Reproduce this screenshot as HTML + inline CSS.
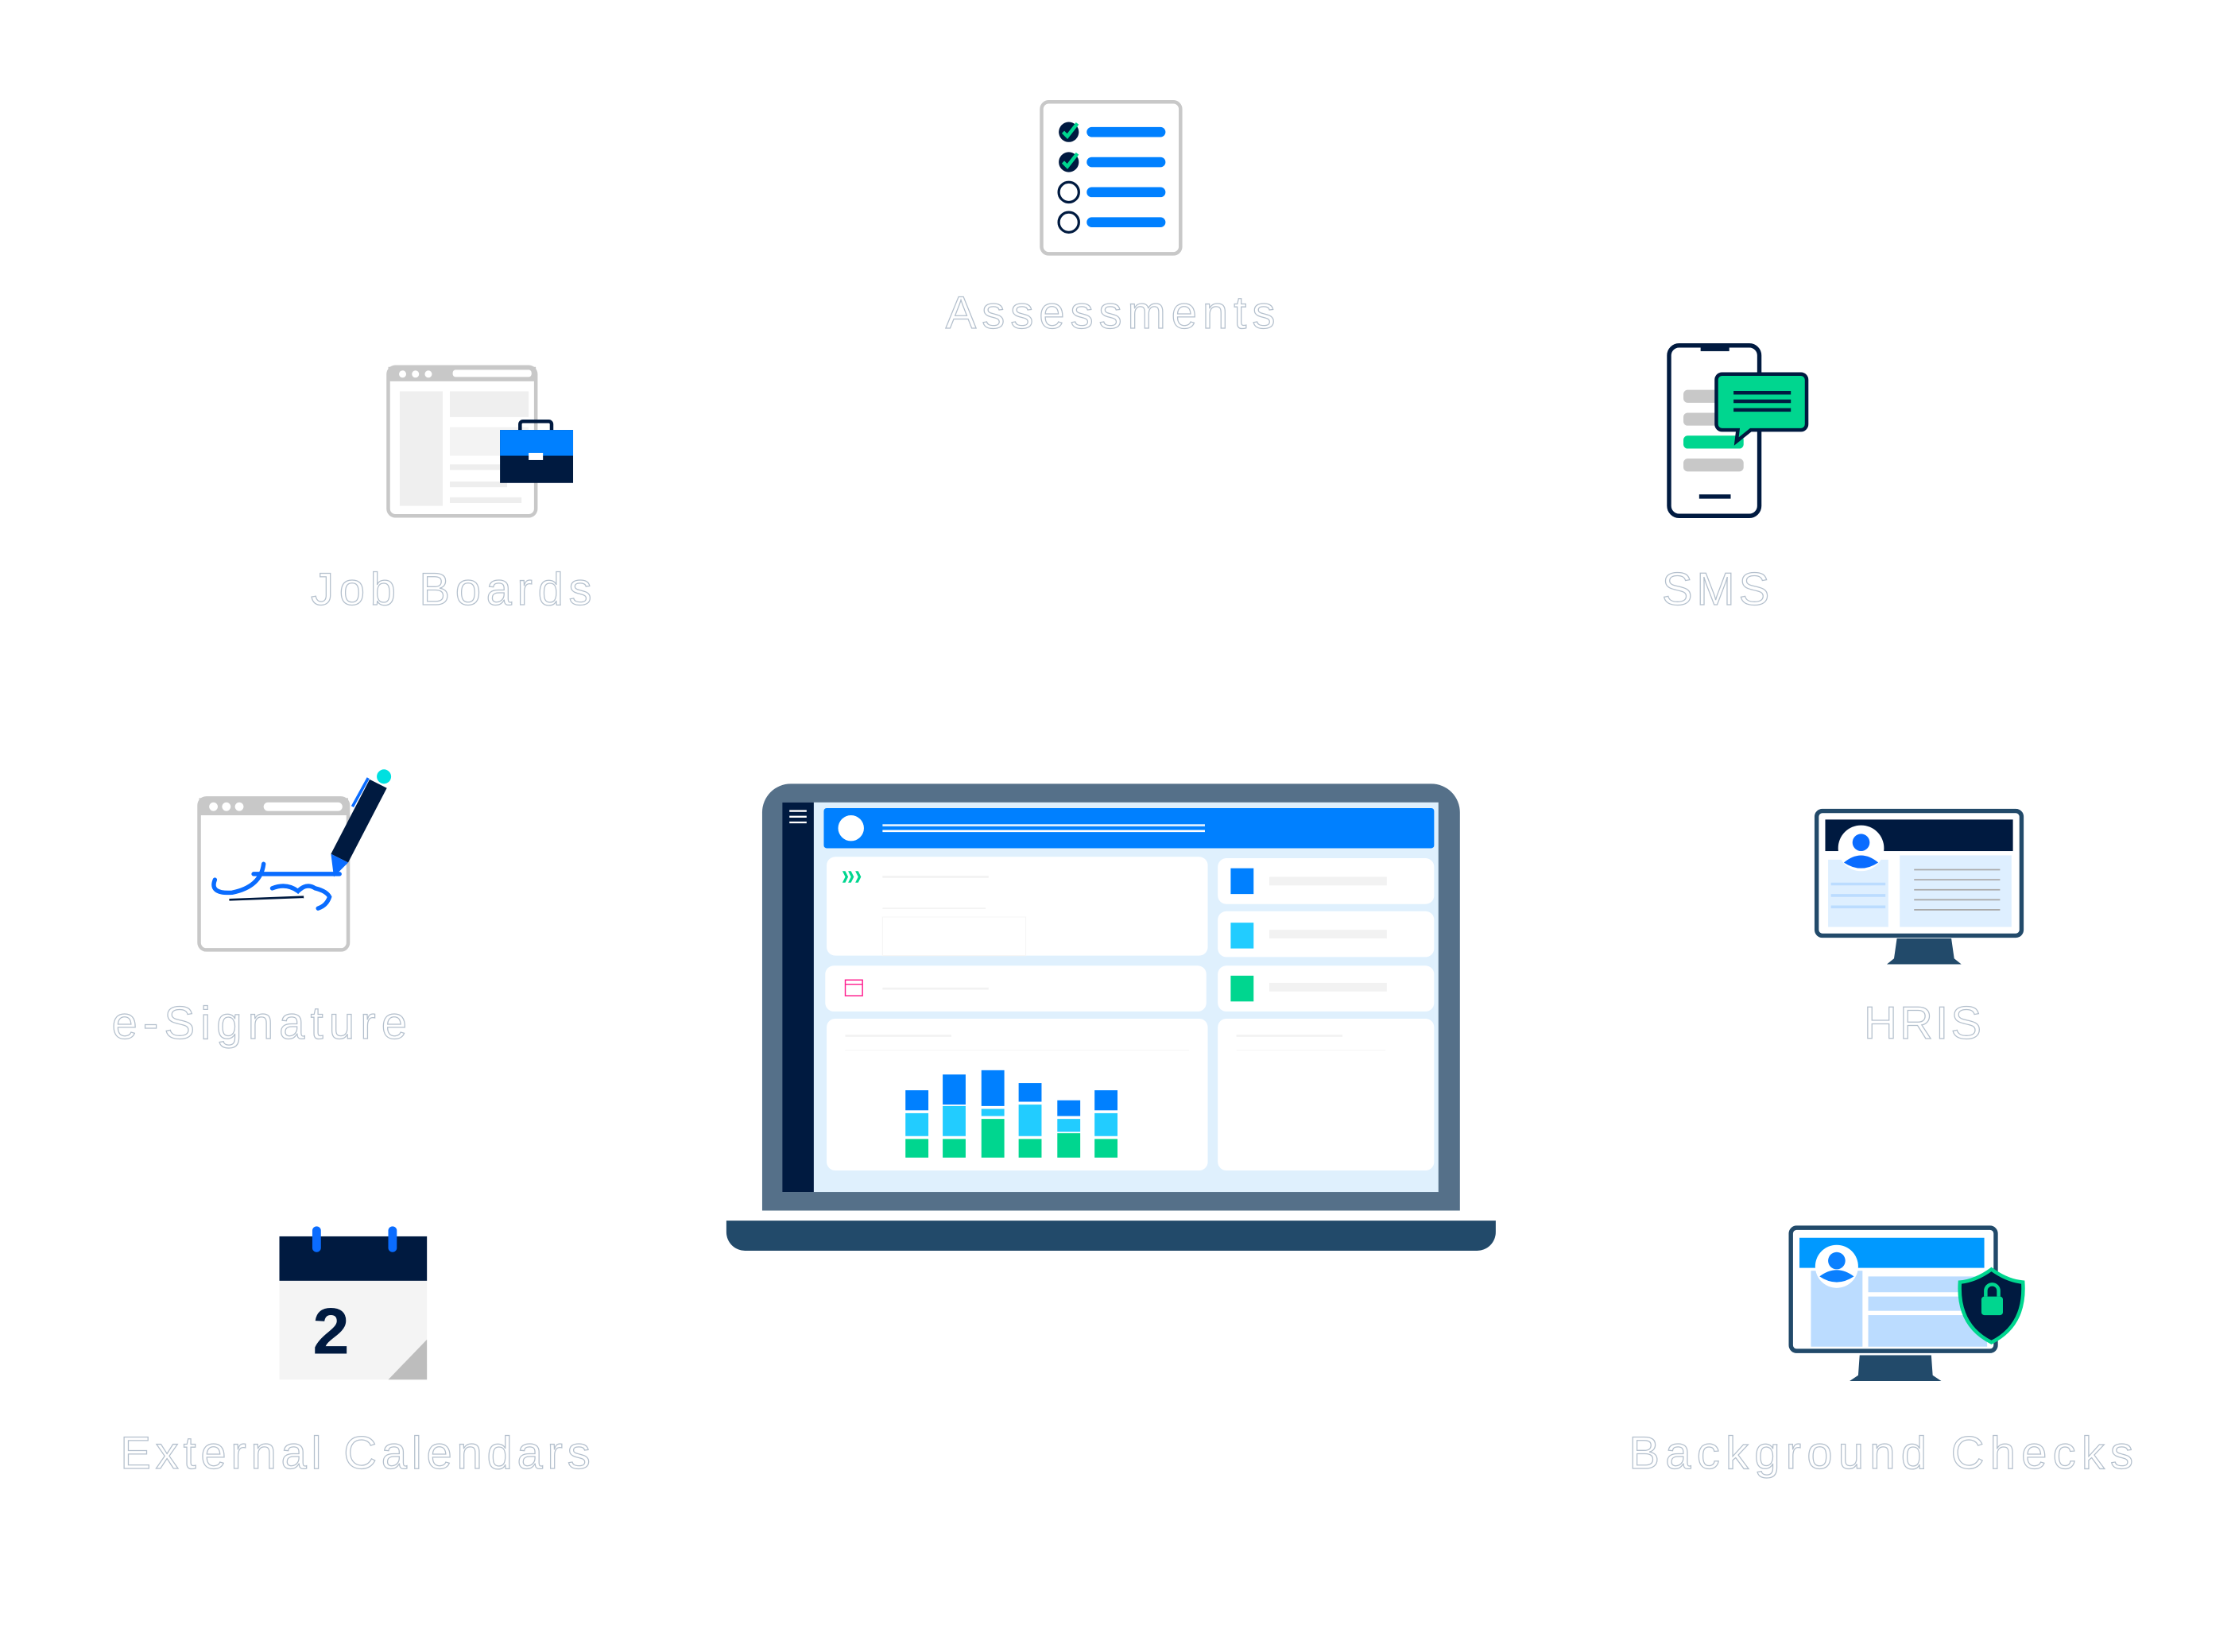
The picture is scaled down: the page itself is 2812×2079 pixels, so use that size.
<!DOCTYPE html>
<html><head><meta charset="utf-8"><style>
html,body{margin:0;padding:0;background:#fff;}
svg{display:block;}
.lbl{font-family:"Liberation Sans",sans-serif;font-size:32px;fill:#fff;stroke:#b4c0cd;stroke-width:0.7;}
</style></head><body>
<svg width="2812" height="2079" viewBox="0 0 1560 1153" xmlns="http://www.w3.org/2000/svg">
<rect width="1560" height="1153" fill="#fff"/>

<!-- Assessments -->
<rect x="727" y="71" width="97" height="106" rx="5" fill="#fff" stroke="#c8c8c8" stroke-width="2.5"/>
<g stroke="#0080ff" stroke-width="7" stroke-linecap="round">
<line x1="762" y1="92" x2="810" y2="92"/><line x1="762" y1="113" x2="810" y2="113"/>
<line x1="762" y1="134" x2="810" y2="134"/><line x1="762" y1="155" x2="810" y2="155"/></g>
<circle cx="746" cy="92" r="7" fill="#001a40"/><circle cx="746" cy="113" r="7" fill="#001a40"/>
<path d="M742 92 l3 3 l7 -9 M742 113 l3 3 l7 -9" stroke="#00d68f" stroke-width="2.5" fill="none"/>
<circle cx="746" cy="134" r="7" fill="#fff" stroke="#001a40" stroke-width="1.8"/>
<circle cx="746" cy="155" r="7" fill="#fff" stroke="#001a40" stroke-width="1.8"/>
<text class="lbl" x="660" y="229" textLength="230" lengthAdjust="spacing">Assessments</text>

<!-- Job Boards -->
<rect x="271" y="256" width="103" height="104" rx="5" fill="#fff" stroke="#c8c8c8" stroke-width="2.5"/>
<rect x="271" y="256" width="103" height="10" fill="#c8c8c8"/>
<circle cx="281" cy="261" r="2.5" fill="#fff"/><circle cx="290" cy="261" r="2.5" fill="#fff"/><circle cx="299" cy="261" r="2.5" fill="#fff"/>
<rect x="316" y="258" width="55" height="5" rx="2" fill="#fff"/>
<rect x="279" y="273" width="30" height="80" fill="#efefef"/>
<rect x="314" y="273" width="55" height="18" fill="#efefef"/>
<rect x="314" y="298" width="55" height="20" fill="#f3f3f3"/>
<rect x="314" y="324" width="40" height="4" fill="#eee"/><rect x="314" y="336" width="40" height="4" fill="#eee"/><rect x="314" y="347" width="50" height="4" fill="#eee"/>
<rect x="363" y="294" width="22" height="8" rx="2" fill="none" stroke="#001a40" stroke-width="2.5"/>
<rect x="349" y="300" width="51" height="37" fill="#001a40"/>
<rect x="349" y="300" width="51" height="18" fill="#0080ff"/>
<rect x="369" y="316" width="10" height="5" fill="#fff"/>
<text class="lbl" x="217" y="422" textLength="196" lengthAdjust="spacing">Job Boards</text>

<!-- SMS -->
<rect x="1165" y="241" width="63" height="119" rx="7" fill="#fff" stroke="#001a40" stroke-width="3"/>
<rect x="1187" y="241" width="20" height="4" fill="#001a40"/>
<rect x="1175" y="272" width="40" height="9" rx="3" fill="#c8c8c8"/>
<rect x="1175" y="288" width="40" height="9" rx="3" fill="#c8c8c8"/>
<rect x="1175" y="304" width="42" height="9" rx="3" fill="#00d68f"/>
<rect x="1175" y="320" width="42" height="9" rx="3" fill="#c8c8c8"/>
<rect x="1186" y="345" width="22" height="3" fill="#001a40"/>
<path d="M1202 261 h55 a4 4 0 0 1 4 4 v31 a4 4 0 0 1 -4 4 h-35 l-10 8 l1 -8 h-11 a4 4 0 0 1 -4 -4 v-31 a4 4 0 0 1 4 -4z" fill="#00d68f" stroke="#001a40" stroke-width="2.5"/>
<g stroke="#001a40" stroke-width="2.5"><line x1="1210" y1="274" x2="1250" y2="274"/><line x1="1210" y1="280" x2="1250" y2="280"/><line x1="1210" y1="286" x2="1250" y2="286"/></g>
<text class="lbl" x="1160" y="422" textLength="75" lengthAdjust="spacing">SMS</text>

<!-- e-Signature -->
<rect x="139" y="557" width="104" height="106" rx="5" fill="#fff" stroke="#c8c8c8" stroke-width="2.5"/>
<rect x="139" y="557" width="104" height="12" fill="#c8c8c8"/>
<circle cx="149" cy="563" r="3" fill="#fff"/><circle cx="158" cy="563" r="3" fill="#fff"/><circle cx="167" cy="563" r="3" fill="#fff"/>
<rect x="184" y="560" width="55" height="6" rx="3" fill="#fff"/>
<path d="M150 614 q-4 10 12 9 q20 -4 22 -20 M177 610 h60 M190 620 q10 -4 18 2 q6 -6 12 -2 q8 2 10 6 q-2 6 -8 8" stroke="#0a6cff" stroke-width="3" fill="none" stroke-linecap="round"/>
<line x1="160" y1="628" x2="212" y2="626" stroke="#001a40" stroke-width="1.5"/>
<path d="M258 544 l12 6 l-27 52 l-12 -6z" fill="#001a40"/>
<path d="M231 596 l12 6 l-10 10z" fill="#0a6cff"/>
<circle cx="268" cy="542" r="5" fill="#00e0e0"/>
<line x1="257" y1="543" x2="246" y2="563" stroke="#0a6cff" stroke-width="2"/>
<text class="lbl" x="78" y="725" textLength="206" lengthAdjust="spacing">e-Signature</text>

<!-- HRIS -->
<rect x="1268" y="566" width="143" height="87" rx="4" fill="#fff" stroke="#224a6a" stroke-width="3"/>
<rect x="1274" y="572" width="131" height="22" fill="#001a40"/>
<rect x="1326" y="597" width="78" height="50" fill="#deefff"/>
<rect x="1276" y="600" width="42" height="47" fill="#deefff"/>
<g stroke="#aaa" stroke-width="1"><line x1="1336" y1="607" x2="1396" y2="607"/><line x1="1336" y1="614" x2="1396" y2="614"/><line x1="1336" y1="621" x2="1396" y2="621"/><line x1="1336" y1="628" x2="1396" y2="628"/><line x1="1336" y1="635" x2="1396" y2="635"/></g>
<g stroke="#bbdcff" stroke-width="2"><line x1="1278" y1="617" x2="1316" y2="617"/><line x1="1278" y1="625" x2="1316" y2="625"/><line x1="1278" y1="633" x2="1316" y2="633"/></g>
<circle cx="1299" cy="592" r="16" fill="#fff"/>
<circle cx="1299" cy="588" r="6" fill="#0a6cff"/>
<path d="M1287 602 q12 -10 24 0 q-12 8 -24 0z" fill="#0a6cff"/>
<path d="M1324 655 h38 l2 14 l5 4 h-52 l5 -4z" fill="#224a6a"/>
<text class="lbl" x="1301" y="725" textLength="82" lengthAdjust="spacing">HRIS</text>

<!-- Calendar -->
<rect x="195" y="863" width="103" height="100" fill="#f4f4f4"/>
<rect x="195" y="863" width="103" height="31" fill="#001a40"/>
<rect x="218" y="856" width="6" height="18" rx="3" fill="#0a6cff"/>
<rect x="271" y="856" width="6" height="18" rx="3" fill="#0a6cff"/>
<path d="M271 963 l27 -28 v28z" fill="#bdbdbd"/>
<text x="231" y="945" font-family="Liberation Sans,sans-serif" font-weight="bold" font-size="46" fill="#001a40" text-anchor="middle">2</text>
<text class="lbl" x="84" y="1025" textLength="328" lengthAdjust="spacing">External Calendars</text>

<!-- Background Checks -->
<rect x="1250" y="857" width="143" height="86" rx="4" fill="#fff" stroke="#224a6a" stroke-width="3"/>
<rect x="1256" y="864" width="129" height="21" fill="#0099ff"/>
<rect x="1264" y="887" width="36" height="53" fill="#bbdcff"/>
<rect x="1304" y="891" width="83" height="11" fill="#bbdcff"/>
<rect x="1304" y="905" width="83" height="10" fill="#bbdcff"/>
<rect x="1304" y="918" width="83" height="22" fill="#bbdcff"/>
<circle cx="1282" cy="884" r="15" fill="#fff"/>
<circle cx="1282" cy="880" r="6" fill="#0a80ff"/>
<path d="M1270 891 q12 -9 24 0 q-12 8 -24 0z" fill="#0a80ff"/>
<path d="M1298 946 h50 l1 14 l6 4 h-64 l6 -4z" fill="#224a6a"/>
<path d="M1390 886 q11 8 22 9 q2 30 -22 42 q-24 -12 -22 -42 q11 -1 22 -9z" fill="#001a40" stroke="#00d68f" stroke-width="2.5"/>
<rect x="1383" y="905" width="15" height="13" rx="2" fill="#00d68f"/>
<path d="M1386 905 v-4 a4.5 4.5 0 0 1 9 0 v4" fill="none" stroke="#00d68f" stroke-width="2.5"/>
<text class="lbl" x="1137" y="1025" textLength="352" lengthAdjust="spacing">Background Checks</text>

<!-- Laptop -->
<path d="M532 845 V567 a20 20 0 0 1 20 -20 H999 a20 20 0 0 1 20 20 V845z" fill="#557089"/>
<rect x="546" y="560" width="458" height="272" fill="#dff0fd"/>
<rect x="546" y="560" width="22" height="272" fill="#001a40"/>
<g stroke="#fff" stroke-width="1.3"><line x1="551" y1="566" x2="563" y2="566"/><line x1="551" y1="570" x2="563" y2="570"/><line x1="551" y1="574" x2="563" y2="574"/></g>
<rect x="575" y="564" width="426" height="28" rx="2" fill="#0080ff"/>
<circle cx="594" cy="578" r="9" fill="#fff"/>
<line x1="616" y1="576" x2="841" y2="576" stroke="#dfefff" stroke-width="1.5"/>
<line x1="616" y1="580" x2="841" y2="580" stroke="#fff" stroke-width="1.5"/>
<g fill="#fff">
<rect x="577" y="598" width="266" height="69" rx="6"/>
<rect x="850" y="599" width="151" height="32" rx="6"/>
<rect x="850" y="636" width="151" height="32" rx="6"/>
<rect x="576" y="674" width="266" height="32" rx="6"/>
<rect x="850" y="674" width="151" height="32" rx="6"/>
<rect x="577" y="711" width="266" height="106" rx="6"/>
<rect x="850" y="711" width="151" height="106" rx="6"/>
</g>
<path d="M588 608 l2 4 l-2 4 h2 l2 -4 l-2 -4z M592 608 l2 4 l-2 4 h2 l2 -4 l-2 -4z M597 608 l2 4 l-2 4 h2 l2 -4 l-2 -4z" fill="#00d68f"/>
<line x1="616" y1="612" x2="690" y2="612" stroke="#f2f2f2" stroke-width="1.5"/>
<line x1="616" y1="634" x2="688" y2="634" stroke="#f4f4f4" stroke-width="1"/>
<rect x="616" y="640" width="100" height="27" fill="none" stroke="#f6f6f6" stroke-width="0.6"/>
<rect x="859" y="606" width="16" height="18" fill="#0080ff"/>
<rect x="859" y="644" width="16" height="18" fill="#22ccff"/>
<rect x="859" y="681" width="16" height="18" fill="#00d68f"/>
<rect x="886" y="612" width="82" height="6" fill="#f2f2f2"/>
<rect x="886" y="649" width="82" height="6" fill="#f2f2f2"/>
<rect x="886" y="686" width="82" height="6" fill="#f2f2f2"/>
<rect x="590" y="684" width="12" height="11" fill="none" stroke="#ff1a8c" stroke-width="0.8"/>
<line x1="590" y1="687" x2="602" y2="687" stroke="#ff1a8c" stroke-width="0.8"/>
<line x1="616" y1="690" x2="690" y2="690" stroke="#f2f2f2" stroke-width="1.5"/>
<line x1="590" y1="723" x2="664" y2="723" stroke="#f2f2f2" stroke-width="1.5"/>
<line x1="590" y1="733" x2="830" y2="733" stroke="#f6f6f6" stroke-width="0.6"/>
<line x1="863" y1="723" x2="937" y2="723" stroke="#f2f2f2" stroke-width="1.5"/>
<line x1="863" y1="733" x2="967" y2="733" stroke="#f6f6f6" stroke-width="0.6"/>
<!-- bars -->
<g>
<rect x="632" y="761" width="16" height="14" fill="#0080ff"/><rect x="632" y="777" width="16" height="16" fill="#22ccff"/><rect x="632" y="795" width="16" height="13" fill="#00d68f"/>
<rect x="658" y="750" width="16" height="21" fill="#0080ff"/><rect x="658" y="772" width="16" height="21" fill="#22ccff"/><rect x="658" y="795" width="16" height="13" fill="#00d68f"/>
<rect x="685" y="747" width="16" height="25" fill="#0080ff"/><rect x="685" y="774" width="16" height="5" fill="#22ccff"/><rect x="685" y="781" width="16" height="27" fill="#00d68f"/>
<rect x="711" y="756" width="16" height="13" fill="#0080ff"/><rect x="711" y="771" width="16" height="22" fill="#22ccff"/><rect x="711" y="795" width="16" height="13" fill="#00d68f"/>
<rect x="738" y="768" width="16" height="11" fill="#0080ff"/><rect x="738" y="781" width="16" height="9" fill="#22ccff"/><rect x="738" y="791" width="16" height="17" fill="#00d68f"/>
<rect x="764" y="761" width="16" height="14" fill="#0080ff"/><rect x="764" y="777" width="16" height="16" fill="#22ccff"/><rect x="764" y="795" width="16" height="13" fill="#00d68f"/>
</g>
<path d="M507 852 H1044 V860 a13 13 0 0 1 -13 13 H520 a13 13 0 0 1 -13 -13z" fill="#224a6a"/>
</svg>
</body></html>
